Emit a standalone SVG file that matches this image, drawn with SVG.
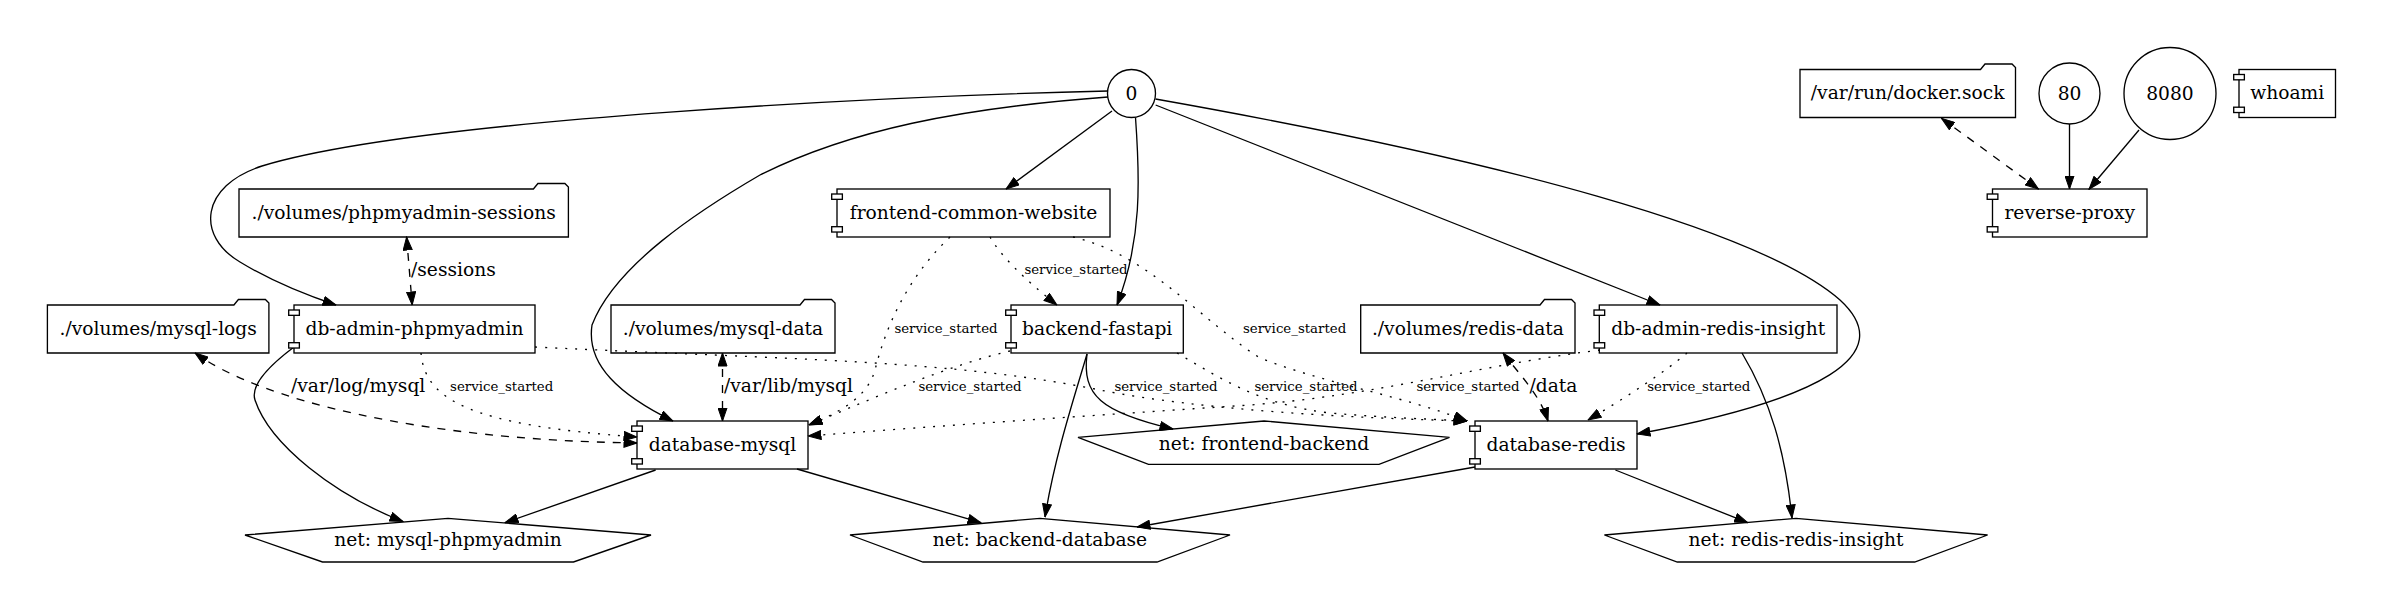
<svg xmlns="http://www.w3.org/2000/svg" width="2383" height="615" viewBox="0 0 2383 615">
<style>
.n{fill:none;stroke:#000;stroke-width:1.33}
.t{font-family:"DejaVu Serif",serif;font-size:18.67px;fill:#000;text-anchor:middle}
.lb{font-family:"DejaVu Serif",serif;font-size:18.67px;fill:#000}
.ss{font-family:"DejaVu Serif",serif;font-size:13.33px;fill:#000;text-anchor:middle}
.e{fill:none;stroke:#000;stroke-width:1.33;marker-end:url(#a)}
.d{stroke-dasharray:8,8;marker-start:url(#a)}
.o{stroke-dasharray:2,8}
.r{fill:#fff;stroke:#000;stroke-width:1.33}
</style>
<defs>
<marker id="a" viewBox="0 0 14 10" refX="13.5" refY="5" markerWidth="14" markerHeight="10" markerUnits="userSpaceOnUse" orient="auto-start-reverse">
<path d="M0.5,0.5 L13.5,5 L0.5,9.5 Z" fill="#000" stroke="#000" stroke-width="1"/>
</marker>
</defs>
<rect width="2383" height="615" fill="#fff"/>
<g id="connectors">
<path class="e" d="M1108,91 C900,96 420,118 262,166 C200,186 196,236 240,262 C268,279 300,293 336,305"/>
<path class="e" d="M1108,97 C960,108 850,130 760,175 C700,210 615,265 592,325 C586,365 620,395 673,421"/>
<path class="e" d="M1112,111 L1006,189"/>
<path class="e" d="M1135.5,117.5 C1140,180 1142,240 1117,305"/>
<path class="e" d="M1155.6,105 L1660,305"/>
<path class="e" d="M1155.5,99 C1500,160 1760,230 1840,300 C1900,355 1820,400 1637,434"/>
<path class="e d" d="M406.6,237 L412.2,305"/>
<path class="e d" d="M195,353 C260,400 420,440 637,443"/>
<path class="e o" d="M421,353 C425,400 470,425 637,437"/>
<path class="e d" d="M722.5,353 L722.5,421"/>
<path class="e o" d="M535,347 C800,360 950,360 1100,390 C1200,410 1350,418 1467,421"/>
<path class="e o" d="M950,237 C905,280 885,330 875,370 C868,395 845,410 809,425"/>
<path class="e o" d="M1010,351 C950,365 880,395 809,425"/>
<path class="e o" d="M990,237 C1000,255 1025,280 1057,305"/>
<path class="e o" d="M1073,237 C1150,255 1200,320 1260,358 C1330,385 1400,395 1467,421"/>
<path class="e o" d="M1177,353 C1220,378 1260,405 1330,413 C1390,418 1430,419 1467,421"/>
<path class="e o" d="M1600,350 C1480,365 1380,395 1250,405 C1100,415 950,425 808,436"/>
<path class="e o" d="M1687,353 C1665,372 1625,398 1588,420"/>
<path class="e d" d="M1503,353 C1520,375 1540,395 1548,421"/>
<path class="e d" d="M1941.5,118.3 L2038.5,189"/>
<path class="e" d="M2069.5,124 L2069.5,189"/>
<path class="e" d="M2139,130 L2089,189.3"/>
<path class="e" d="M294,347 C270,365 250,385 255,400 C270,445 335,495 403,521.5"/>
<path class="e" d="M655.6,470 L505,522.7"/>
<path class="e" d="M797,469 L981,522.7"/>
<path class="e" d="M1087,354 C1075,395 1055,455 1045,517"/>
<path class="e" d="M1087,354 C1082,395 1100,412 1173,429"/>
<path class="e" d="M1475,467 L1137,527"/>
<path class="e" d="M1615.4,470 L1747.7,522.7"/>
<path class="e" d="M1742,353 C1770,400 1785,450 1792,518"/>
<text class="lb" x="411" y="276">/sessions</text>
<text class="lb" x="291" y="392">/var/log/mysql</text>
<text class="lb" x="724" y="391.5">/var/lib/mysql</text>
<text class="lb" x="1529.5" y="391.5">/data</text>
<text class="ss" x="1076" y="274">service_started</text>
<text class="ss" x="946" y="332.5">service_started</text>
<text class="ss" x="1294.6" y="332.5">service_started</text>
<text class="ss" x="501.7" y="391">service_started</text>
<text class="ss" x="970" y="391">service_started</text>
<text class="ss" x="1166" y="391">service_started</text>
<text class="ss" x="1306" y="391">service_started</text>
<text class="ss" x="1468" y="391">service_started</text>
<text class="ss" x="1698.8" y="391">service_started</text>
</g>
<g id="node-0"><circle class="n" cx="1131.5" cy="93.5" r="24"/><text class="t" x="1131.5" y="99.5">0</text></g>
<g id="node-docker-sock"><path class="n" d="M1800,69.5 L1980.5,69.5 L1985,64 L2012,64 L2015.5,67.5 L2015.5,117.5 L1800,117.5 Z"/><text class="t" x="1907.7" y="99">/var/run/docker.sock</text></g>
<g id="node-80"><circle class="n" cx="2069.5" cy="93.5" r="30.5"/><text class="t" x="2069.5" y="99.5">80</text></g>
<g id="node-8080"><circle class="n" cx="2170" cy="93.5" r="46"/><text class="t" x="2170" y="99.5">8080</text></g>
<g id="node-whoami"><rect class="n" x="2239" y="69.5" width="96.5" height="48"/><rect class="r" x="2233.7" y="74.5" width="10.67" height="5.33"/><rect class="r" x="2233.7" y="107.2" width="10.67" height="5.33"/><text class="t" x="2287.2" y="99">whoami</text></g>
<g id="node-reverse-proxy"><rect class="n" x="1992.5" y="189" width="154.5" height="48"/><rect class="r" x="1987.2" y="194" width="10.67" height="5.33"/><rect class="r" x="1987.2" y="226.7" width="10.67" height="5.33"/><text class="t" x="2069.7" y="218.5">reverse-proxy</text></g>
<g id="node-frontend-common-website"><rect class="n" x="837" y="189" width="273" height="48"/><rect class="r" x="831.7" y="194" width="10.67" height="5.33"/><rect class="r" x="831.7" y="226.7" width="10.67" height="5.33"/><text class="t" x="973.5" y="218.5">frontend-common-website</text></g>
<g id="node-phpmyadmin-sessions"><path class="n" d="M239,189 L533.4,189 L537.9,183.5 L564.9,183.5 L568.4,187 L568.4,237 L239,237 Z"/><text class="t" x="403.7" y="218.5">./volumes/phpmyadmin-sessions</text></g>
<g id="node-mysql-logs"><path class="n" d="M47.4,305 L233.9,305 L238.4,299.5 L265.4,299.5 L268.9,303 L268.9,353 L47.4,353 Z"/><text class="t" x="158.2" y="334.5">./volumes/mysql-logs</text></g>
<g id="node-db-admin-phpmyadmin"><rect class="n" x="294" y="305" width="241" height="48"/><rect class="r" x="288.7" y="310" width="10.67" height="5.33"/><rect class="r" x="288.7" y="342.7" width="10.67" height="5.33"/><text class="t" x="414.5" y="334.5">db-admin-phpmyadmin</text></g>
<g id="node-mysql-data"><path class="n" d="M611,305 L800,305 L804.5,299.5 L831.5,299.5 L835,303 L835,353 L611,353 Z"/><text class="t" x="723" y="334.5">./volumes/mysql-data</text></g>
<g id="node-backend-fastapi"><rect class="n" x="1011" y="305" width="172.3" height="48"/><rect class="r" x="1005.7" y="310" width="10.67" height="5.33"/><rect class="r" x="1005.7" y="342.7" width="10.67" height="5.33"/><text class="t" x="1097.2" y="334.5">backend-fastapi</text></g>
<g id="node-redis-data"><path class="n" d="M1360.7,305 L1540,305 L1544.5,299.5 L1571.5,299.5 L1575,303 L1575,353 L1360.7,353 Z"/><text class="t" x="1467.9" y="334.5">./volumes/redis-data</text></g>
<g id="node-db-admin-redis-insight"><rect class="n" x="1599.3" y="305" width="237.7" height="48"/><rect class="r" x="1594" y="310" width="10.67" height="5.33"/><rect class="r" x="1594" y="342.7" width="10.67" height="5.33"/><text class="t" x="1718.2" y="334.5">db-admin-redis-insight</text></g>
<g id="node-database-mysql"><rect class="n" x="637" y="421" width="171" height="48"/><rect class="r" x="631.7" y="426" width="10.67" height="5.33"/><rect class="r" x="631.7" y="458.7" width="10.67" height="5.33"/><text class="t" x="722.5" y="450.5">database-mysql</text></g>
<g id="node-database-redis"><rect class="n" x="1475" y="421" width="162" height="48"/><rect class="r" x="1469.7" y="426" width="10.67" height="5.33"/><rect class="r" x="1469.7" y="458.7" width="10.67" height="5.33"/><text class="t" x="1556" y="450.5">database-redis</text></g>
<g id="node-net-frontend-backend"><path class="n" d="M1264,421 L1449.5,437.3 L1379,464.3 L1148.5,464.3 L1078,437.3 Z"/><text class="t" x="1264" y="449.5">net: frontend-backend</text></g>
<g id="node-net-mysql-phpmyadmin"><path class="n" d="M448,518.3 L651,535 L573.5,562 L322.5,562 L245,535 Z"/><text class="t" x="448" y="546">net: mysql-phpmyadmin</text></g>
<g id="node-net-backend-database"><path class="n" d="M1040,518.3 L1230,535 L1157,562 L923,562 L850,535 Z"/><text class="t" x="1040" y="546">net: backend-database</text></g>
<g id="node-net-redis-redis-insight"><path class="n" d="M1796,518.3 L1987.6,535 L1914.7,562 L1677.3,562 L1604.4,535 Z"/><text class="t" x="1796" y="546">net: redis-redis-insight</text></g>
</svg>
